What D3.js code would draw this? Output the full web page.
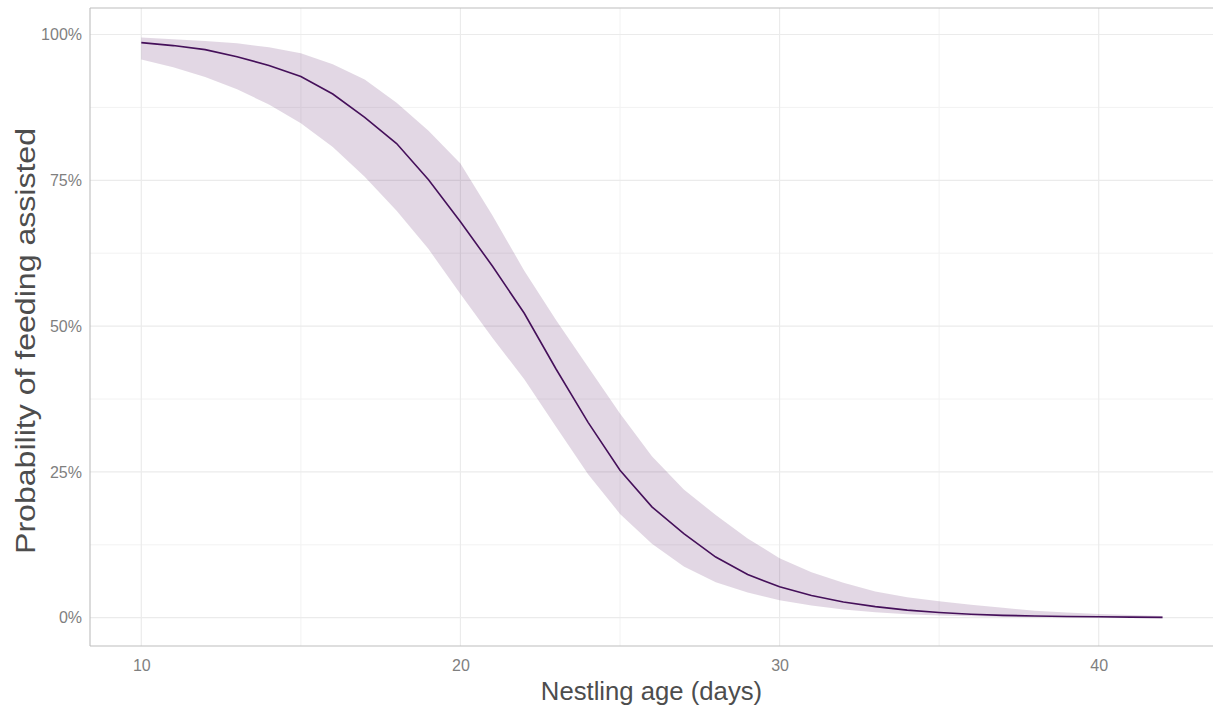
<!DOCTYPE html>
<html>
<head>
<meta charset="utf-8">
<script src="https://cdn.jsdelivr.net/npm/d3@7"></script>
<style>
  html, body { margin: 0; padding: 0; background: #ffffff; }
  svg { display: block; font-family: "Liberation Sans", Arial, sans-serif; }
</style>
</head>
<body>
<svg id="chart" width="1213" height="713"></svg>
<script>
// Nestling age (days) at which predictions are shown
const ages = [10, 11, 12, 13, 14, 15, 16, 17, 18, 19, 20, 21, 22, 23, 24, 25, 26,
              27, 28, 29, 30, 31, 32, 33, 34, 35, 36, 37, 38, 39, 40, 41, 42];

// Predicted probability of assisted feeding (%)
const predicted = [98.6, 98.1, 97.4, 96.2, 94.7, 92.8, 89.8, 85.8, 81.3, 75.1, 67.9,
                   60.3, 52.2, 42.6, 33.5, 25.3, 19.0, 14.4, 10.4, 7.4, 5.3, 3.8,
                   2.7, 1.9, 1.3, 0.9, 0.6, 0.4, 0.3, 0.2, 0.17, 0.1, 0.06];

// Upper and lower bounds of the confidence band (%)
const upper = [99.5, 99.2, 98.9, 98.5, 97.8, 96.8, 94.9, 92.3, 88.3, 83.5, 77.9,
               69.0, 59.5, 51.0, 43.0, 35.0, 27.7, 22.0, 17.6, 13.6, 10.2, 7.8,
               6.0, 4.5, 3.5, 2.8, 2.2, 1.7, 1.2, 0.9, 0.65, 0.45, 0.3];
const lower = [95.7, 94.4, 92.7, 90.6, 88.0, 84.8, 80.7, 75.6, 69.8, 63.2, 55.5,
               48.0, 40.9, 32.7, 24.6, 17.8, 12.7, 8.8, 6.1, 4.3, 3.0, 2.1,
               1.4, 0.95, 0.6, 0.37, 0.23, 0.14, 0.09, 0.05, 0.03, 0.02, 0.01];

// Axis ticks
const xTicks = [10, 20, 30, 40];
const xMinor = [15, 25, 35];
const yTicks = [0, 25, 50, 75, 100];
const yMinor = [12.5, 37.5, 62.5, 87.5];

const data = ages.map((a, i) => ({ age: a, p: predicted[i], lo: lower[i], hi: upper[i] }));

const svg = d3.select("#chart");
const W = 1213, H = 713;
const panel = { left: 90, top: 8, right: W, bottom: 646 };

const x = d3.scaleLinear().domain([10, 40]).range([141.3, 1098.7]);
const y = d3.scaleLinear().domain([0, 100]).range([617.7, 34.5]);

// Grid lines (minor first, then major)
const grid = svg.append("g");
grid.selectAll(".xminor").data(xMinor).join("line")
  .attr("x1", d => x(d)).attr("x2", d => x(d))
  .attr("y1", panel.top).attr("y2", panel.bottom)
  .attr("stroke", "#f2f2f2").attr("stroke-width", 1);
grid.selectAll(".yminor").data(yMinor).join("line")
  .attr("x1", panel.left).attr("x2", panel.right)
  .attr("y1", d => y(d)).attr("y2", d => y(d))
  .attr("stroke", "#f2f2f2").attr("stroke-width", 1);
grid.selectAll(".xmajor").data(xTicks).join("line")
  .attr("x1", d => x(d)).attr("x2", d => x(d))
  .attr("y1", panel.top).attr("y2", panel.bottom)
  .attr("stroke", "#ebebeb").attr("stroke-width", 1.2);
grid.selectAll(".ymajor").data(yTicks).join("line")
  .attr("x1", panel.left).attr("x2", panel.right)
  .attr("y1", d => y(d)).attr("y2", d => y(d))
  .attr("stroke", "#ebebeb").attr("stroke-width", 1.2);

// Confidence ribbon
const area = d3.area()
  .x(d => x(d.age))
  .y0(d => y(d.lo))
  .y1(d => y(d.hi));
svg.append("path").datum(data)
  .attr("d", area)
  .attr("fill", "#440154")
  .attr("fill-opacity", 0.155);

// Fitted curve
const line = d3.line()
  .x(d => x(d.age))
  .y(d => y(d.p));
svg.append("path").datum(data)
  .attr("d", line)
  .attr("fill", "none")
  .attr("stroke", "#45105a")
  .attr("stroke-width", 1.6);

// Panel frame lines
const frameColor = "#bdbdbd";
svg.append("line").attr("x1", panel.left).attr("x2", panel.left)
  .attr("y1", panel.top).attr("y2", panel.bottom)
  .attr("stroke", frameColor).attr("stroke-width", 1.1);
svg.append("line").attr("x1", panel.left).attr("x2", panel.right)
  .attr("y1", panel.top).attr("y2", panel.top)
  .attr("stroke", frameColor).attr("stroke-width", 1.1);
svg.append("line").attr("x1", panel.left).attr("x2", panel.right)
  .attr("y1", panel.bottom).attr("y2", panel.bottom)
  .attr("stroke", frameColor).attr("stroke-width", 1.1);

// Axis tick labels via D3 axes (no domain or tick marks drawn)
const xAxis = d3.axisBottom(x).tickValues(xTicks).tickSize(0).tickPadding(0);
const gx = svg.append("g").attr("transform", `translate(0, ${panel.bottom})`).call(xAxis);
gx.select(".domain").remove();
gx.selectAll("text")
  .attr("dy", null).attr("y", 25)
  .attr("font-size", 16).attr("fill", "#7f7f7f")
  .attr("font-family", "Liberation Sans, Arial, sans-serif");

const yAxis = d3.axisLeft(y).tickValues(yTicks).tickSize(0).tickPadding(0)
  .tickFormat(d => d + "%");
const gy = svg.append("g").attr("transform", `translate(82, 0)`).call(yAxis);
gy.select(".domain").remove();
gy.selectAll("text")
  .attr("x", 0)
  .attr("font-size", 16).attr("fill", "#7f7f7f")
  .attr("font-family", "Liberation Sans, Arial, sans-serif");

// Axis titles
svg.append("text")
  .attr("x", (panel.left + panel.right) / 2).attr("y", 700)
  .attr("text-anchor", "middle")
  .attr("font-size", 25.7).attr("fill", "#4d4d4d")
  .text("Nestling age (days)");

svg.append("text")
  .attr("transform", `translate(35, 341) rotate(-90)`)
  .attr("text-anchor", "middle")
  .attr("font-size", 27).attr("fill", "#4d4d4d")
  .attr("textLength", 426).attr("lengthAdjust", "spacingAndGlyphs")
  .text("Probability of feeding assisted");
</script>
</body>
</html>
